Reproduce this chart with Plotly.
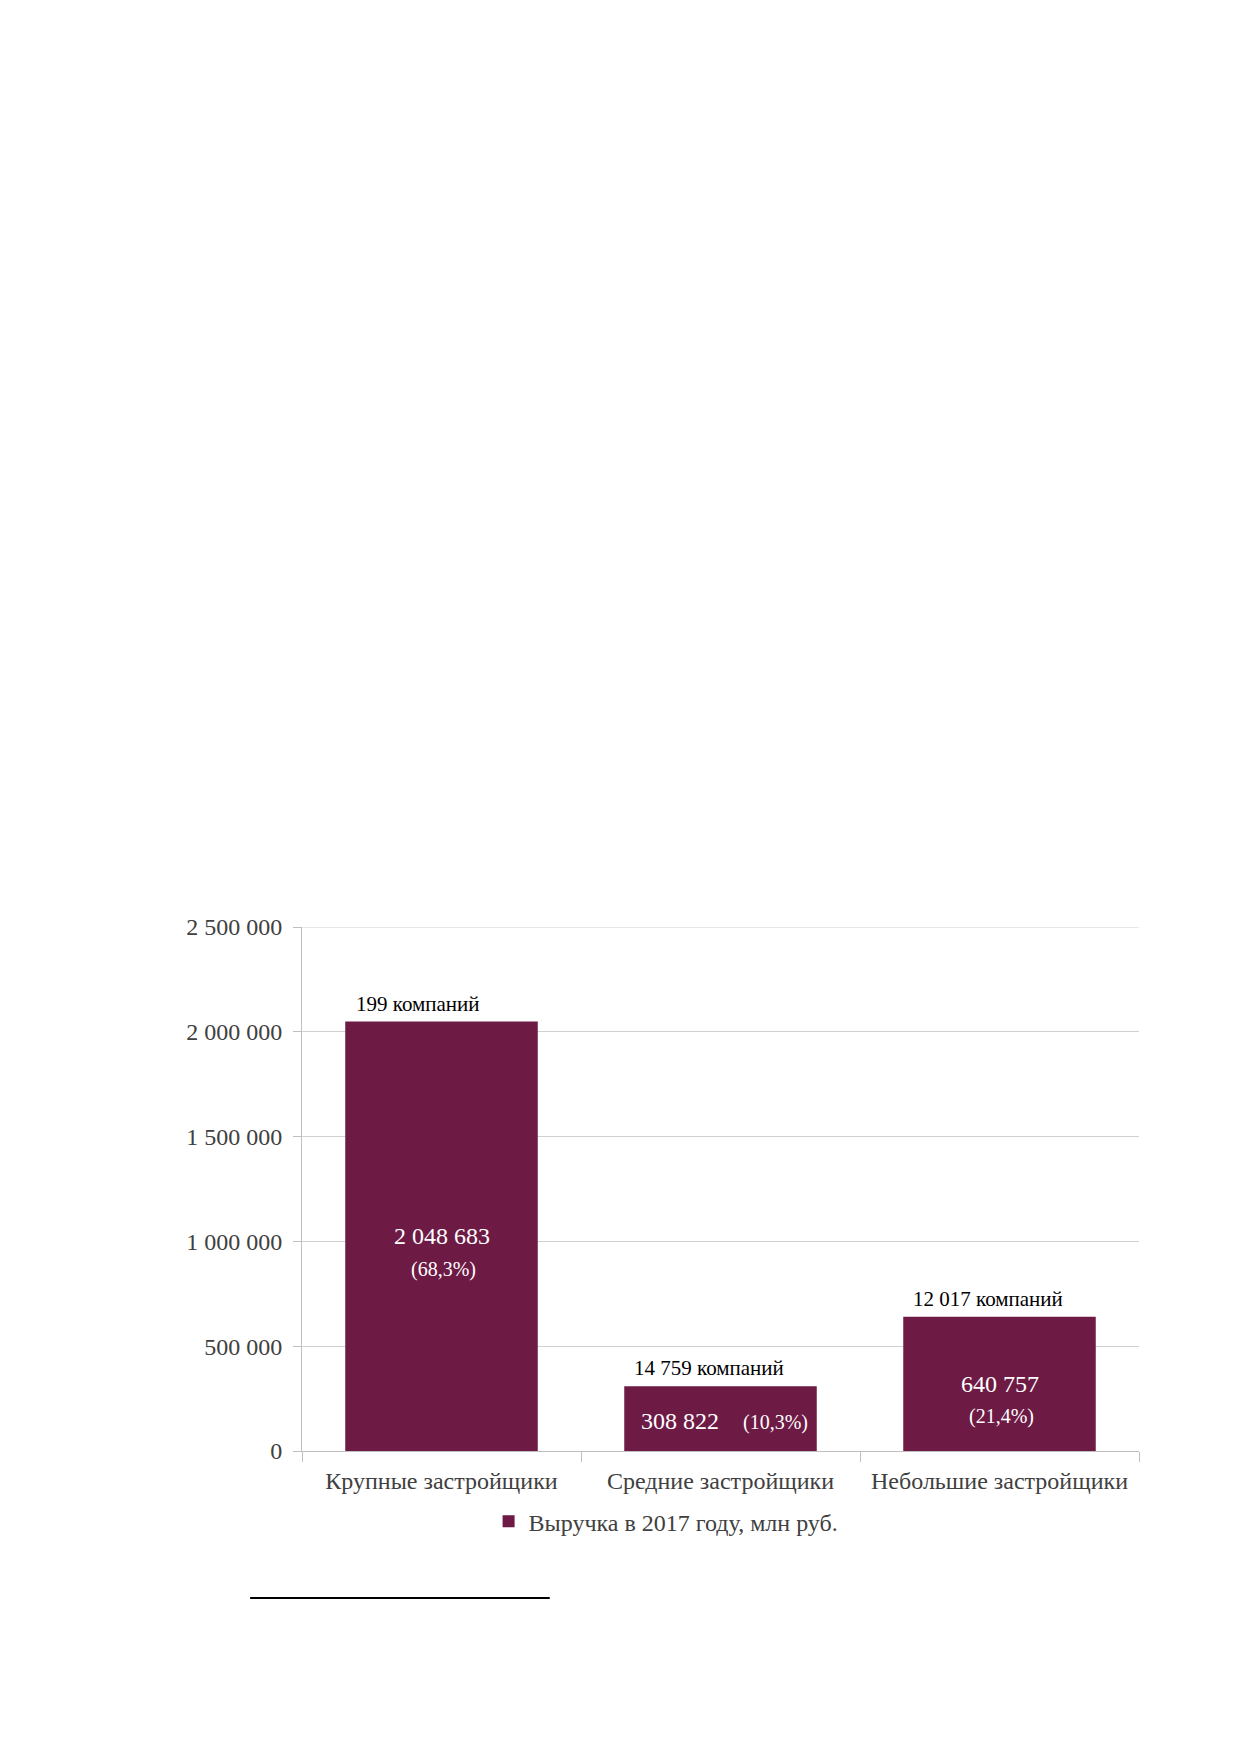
import plotly.graph_objects as go

# data
categories = ["Крупные застройщики", "Средние застройщики", "Небольшие застройщики"]
revenue = [2048683, 308822, 640757]
shares = ["(68,3%)", "(10,3%)", "(21,4%)"]
companies = ["199 компаний", "14 759 компаний", "12 017 компаний"]
series_name = "Выручка в 2017 году, млн руб."

y_ticks = [0, 500000, 1000000, 1500000, 2000000, 2500000]
y_tick_labels = ["0", "500 000", "1 000 000", "1 500 000", "2 000 000", "2 500 000"]

BAR = "#6d1a45"
FONT = "Liberation Serif"

def fmt(v):
    return f"{v:,}".replace(",", " ")

fig = go.Figure()
fig.add_trace(go.Bar(
    x=categories,
    y=revenue,
    name=series_name,
    marker=dict(color=BAR, line=dict(width=0)),
    showlegend=True,
))

annotations = []
# company counts above bars (slightly shifted left like in the original)
shift_x = [-24, -12, -12]
for cat, val, txt, dx in zip(categories, revenue, companies, shift_x):
    annotations.append(dict(
        x=cat, y=val, xref="x", yref="y", text=txt, showarrow=False,
        xanchor="center", yanchor="bottom", xshift=dx, yshift=4,
        font=dict(family=FONT, size=21, color="#000000"),
    ))

# value + share inside bars
for i, (cat, val, sh) in enumerate(zip(categories, revenue, shares)):
    if i == 1:
        # middle bar is short: value and share on one line
        annotations.append(dict(
            x=cat, y=val / 2, xref="x", yref="y", text=fmt(val), showarrow=False,
            xanchor="center", yanchor="middle", xshift=-41, yshift=-2,
            font=dict(family=FONT, size=24, color="white"),
        ))
        annotations.append(dict(
            x=cat, y=val / 2, xref="x", yref="y", text=sh, showarrow=False,
            xanchor="center", yanchor="middle", xshift=55, yshift=-4,
            font=dict(family=FONT, size=20, color="white"),
        ))
    else:
        annotations.append(dict(
            x=cat, y=val / 2, xref="x", yref="y", text=fmt(val), showarrow=False,
            xanchor="center", yanchor="middle", xshift=0, yshift=0,
            font=dict(family=FONT, size=24, color="white"),
        ))
        annotations.append(dict(
            x=cat, y=val / 2, xref="x", yref="y", text=sh, showarrow=False,
            xanchor="center", yanchor="middle", xshift=2, yshift=-33,
            font=dict(family=FONT, size=20, color="white"),
        ))

fig.update_layout(
    width=1239,
    height=1752,
    margin=dict(l=294, r=108, t=919, b=309),
    paper_bgcolor="white",
    plot_bgcolor="white",
    bargap=0.31,
    font=dict(family=FONT, size=24, color="#404040"),
    annotations=annotations,
    legend=dict(
        orientation="h",
        x=0.435, y=-0.135, xanchor="center", yanchor="middle",
        font=dict(family=FONT, size=24, color="#404040"),
        itemwidth=30,
    ),
    shapes=[
        # top gridline (plotly skips the one on the axis edge)
        dict(
            type="line", xref="paper", yref="y", layer="below",
            x0=0, x1=1, y0=y_ticks[-1], y1=y_ticks[-1],
            line=dict(color="#d0d0d0", width=1),
        ),
        # footnote rule under the chart
        dict(
            type="line", xref="paper", yref="paper",
            x0=-0.062, x1=0.296, y0=-0.2805, y1=-0.2805,
            line=dict(color="#000000", width=2),
        ),
    ],
)

fig.update_xaxes(
    showline=True, linecolor="#bfbfbf", linewidth=1,
    ticks="outside", tickson="boundaries", ticklen=10, tickcolor="#bfbfbf",
    ticklabelstandoff=8,
    tickfont=dict(family=FONT, size=24, color="#404040"),
    showgrid=False,
)
fig.update_yaxes(
    range=[0, 2500000],
    tickvals=y_ticks, ticktext=y_tick_labels,
    showline=True, linecolor="#bfbfbf", linewidth=1,
    ticks="outside", ticklen=8, tickcolor="#bfbfbf",
    ticklabelstandoff=6,
    showgrid=True, gridcolor="#d0d0d0", gridwidth=1,
    zeroline=False,
    tickfont=dict(family=FONT, size=24, color="#404040"),
)

fig.write_html("out.html")
